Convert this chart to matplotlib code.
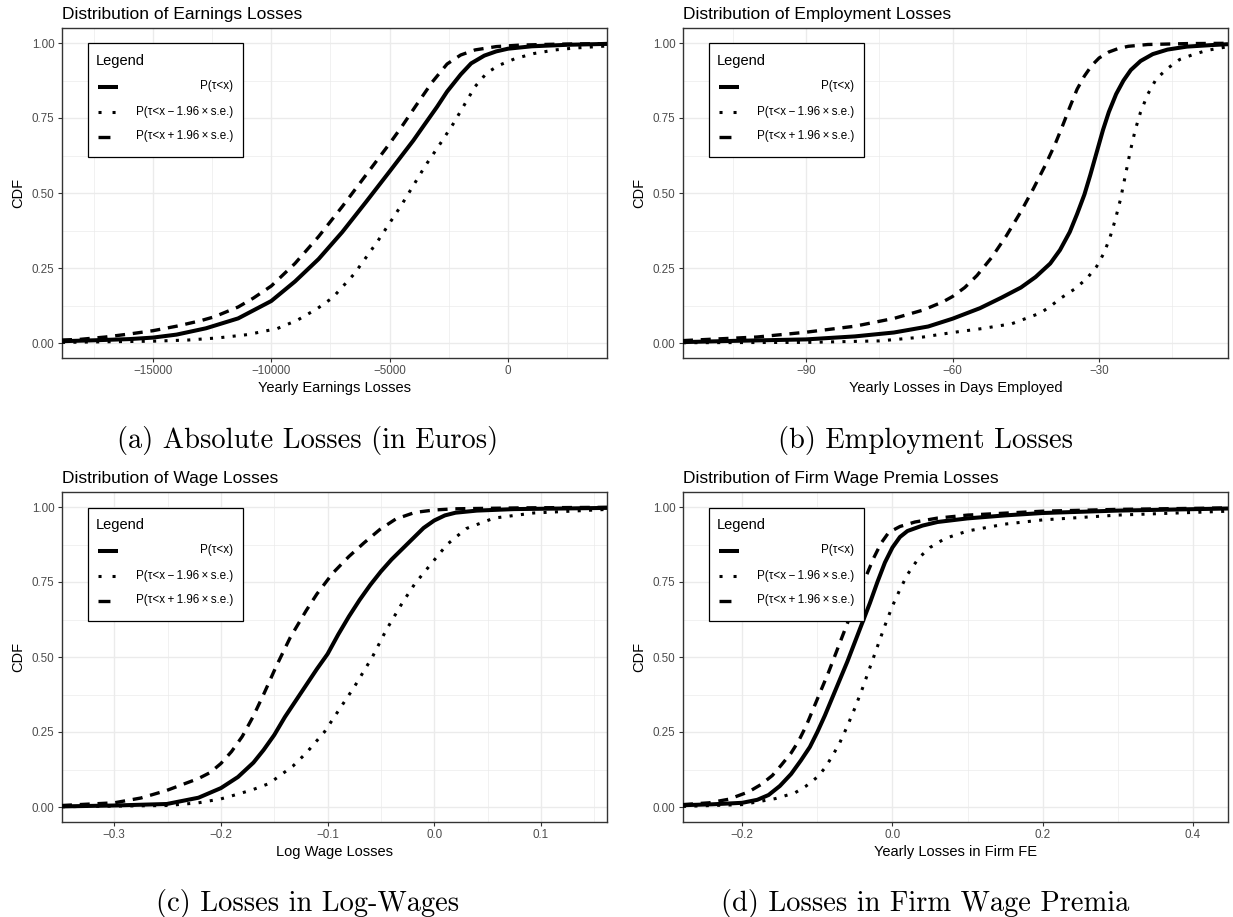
import matplotlib
matplotlib.use("Agg")
import matplotlib.pyplot as plt
from matplotlib.patches import Rectangle
from matplotlib.lines import Line2D

plt.rcParams['font.family'] = ['Liberation Sans', 'DejaVu Sans']
plt.rcParams['lines.scale_dashes'] = False

# ---------------- data ----------------
legend_title = "Legend"
legend_labels = ["P(τ<x)", "P(τ<x\u2009−\u20091.96\u2009×\u2009s.e.)", "P(τ<x\u2009+\u20091.96\u2009×\u2009s.e.)"]

# (a) yearly earnings losses
a_mid_x = [-18840, -17500, -16000, -15000, -14000, -12760, -11400, -10000, -9000, -8000, -7000, -6000,
           -5000, -4000, -3600, -3000, -2575, -2000, -1560, -1000, -500, 0, 1000, 2500, 4180]
a_mid_y = [0.006, 0.009, 0.013, 0.018, 0.028, 0.049, 0.082, 0.14, 0.205, 0.28, 0.37, 0.47,
           0.572, 0.675, 0.72, 0.787, 0.838, 0.895, 0.932, 0.958, 0.972, 0.981, 0.989, 0.994, 0.997]
a_lo_x = [-18840, -17000, -15000, -13500, -12250, -11000, -9750, -8900, -8070, -7410, -6500, -5500,
          -4500, -3500, -2900, -2320, -1800, -1390, -900, -400, 300, 1100, 2000, 2770, 4180]
a_lo_y = [0.002, 0.004, 0.006, 0.010, 0.017, 0.028, 0.048, 0.076, 0.114, 0.151, 0.23, 0.34,
          0.46, 0.59, 0.66, 0.73, 0.80, 0.855, 0.90, 0.925, 0.948, 0.965, 0.977, 0.983, 0.99]
a_hi_x = [-18840, -18100, -17000, -16000, -15000, -14000, -13000, -12420, -11400, -10750, -10000, -9000,
          -8000, -7000, -6000, -5000, -4500, -3900, -3200, -2575, -2000, -1390, -500, 500, 2000, 4180]
a_hi_y = [0.010, 0.012, 0.020, 0.030, 0.041, 0.056, 0.074, 0.087, 0.120, 0.150, 0.19, 0.265,
          0.355, 0.455, 0.56, 0.665, 0.72, 0.79, 0.87, 0.93, 0.96, 0.977, 0.988, 0.993, 0.996, 0.998]

# (b) yearly losses in days employed
b_mid_x = [-115.2, -105, -90, -80, -72, -65, -60, -54.4, -50, -46, -43, -40, -38, -36, -34.5, -33,
           -31.8, -30.5, -29.2, -28, -26.5, -25, -23.5, -21.5, -19, -16, -12, -7, -3.6]
b_mid_y = [0.003, 0.007, 0.012, 0.022, 0.035, 0.055, 0.081, 0.116, 0.151, 0.185, 0.22, 0.265, 0.31, 0.37, 0.43, 0.495,
           0.56, 0.635, 0.71, 0.77, 0.83, 0.875, 0.91, 0.94, 0.963, 0.978, 0.988, 0.993, 0.996]
b_lo_x = [-115.2, -90, -75, -66, -60, -54, -47.9, -42, -40, -37.7, -35, -32.5, -30.5, -29, -27.8, -26.7,
          -25.6, -24.6, -23.6, -22.6, -21.5, -20, -18.3, -16, -13.5, -11, -8, -3.6]
b_lo_y = [0.001, 0.002, 0.007, 0.02, 0.035, 0.048, 0.064, 0.10, 0.122, 0.151, 0.18, 0.215, 0.255, 0.30, 0.35, 0.41,
          0.48, 0.56, 0.64, 0.71, 0.77, 0.83, 0.88, 0.915, 0.945, 0.96, 0.975, 0.988]
b_hi_x = [-115.2, -100, -90, -80, -72, -66, -62, -60, -57.5, -55, -52, -49, -46, -43.5, -41, -39,
          -37.5, -36, -34.5, -33, -31.5, -30, -28, -26, -24, -20, -12, -3.6]
b_hi_y = [0.008, 0.020, 0.036, 0.056, 0.082, 0.110, 0.137, 0.155, 0.185, 0.225, 0.285, 0.357, 0.438, 0.513, 0.593, 0.663,
          0.723, 0.786, 0.846, 0.89, 0.925, 0.95, 0.97, 0.982, 0.989, 0.995, 0.998, 0.999]

# (c) log wage losses
c_mid_x = [-0.349, -0.3, -0.2508, -0.221, -0.2, -0.184, -0.1695, -0.16, -0.15, -0.14, -0.125, -0.11,
           -0.1, -0.09, -0.08, -0.07, -0.06, -0.05, -0.04, -0.03, -0.02, -0.01, 0.0, 0.01, 0.02,
           0.04, 0.075, 0.12, 0.162]
c_mid_y = [0.002, 0.005, 0.010, 0.031, 0.063, 0.10, 0.148, 0.19, 0.24, 0.30, 0.38, 0.46,
           0.51, 0.575, 0.635, 0.69, 0.74, 0.785, 0.825, 0.86, 0.895, 0.93, 0.955, 0.972, 0.981,
           0.988, 0.993, 0.995, 0.997]
c_lo_x = [-0.349, -0.25, -0.221, -0.2, -0.184, -0.17, -0.155, -0.1326, -0.12, -0.103, -0.09, -0.075,
          -0.058, -0.045, -0.03, -0.018, -0.003, 0.012, 0.03, 0.056, 0.093, 0.162]
c_lo_y = [0.001, 0.005, 0.014, 0.027, 0.043, 0.058, 0.078, 0.136, 0.18, 0.25, 0.32, 0.40,
          0.50, 0.59, 0.68, 0.745, 0.81, 0.875, 0.928, 0.963, 0.98, 0.992]
c_hi_x = [-0.349, -0.333, -0.3, -0.275, -0.251, -0.221, -0.21, -0.2, -0.19, -0.18, -0.17, -0.16,
          -0.148, -0.135, -0.12, -0.11, -0.095, -0.08, -0.066, -0.051, -0.036, -0.018, 0.0, 0.019,
          0.08, 0.162]
c_hi_y = [0.005, 0.008, 0.014, 0.030, 0.055, 0.095, 0.115, 0.145, 0.185, 0.235, 0.30, 0.375,
          0.47, 0.565, 0.655, 0.71, 0.78, 0.835, 0.88, 0.925, 0.96, 0.982, 0.99, 0.994,
          0.997, 0.999]

# (d) yearly losses in firm fixed effects
d_mid_x = [-0.279, -0.24, -0.2, -0.18, -0.165, -0.15, -0.135, -0.122, -0.11, -0.1, -0.09, -0.08, -0.07,
           -0.06, -0.05, -0.04, -0.03, -0.02, -0.01, 0.0, 0.01, 0.02, 0.04, 0.06, 0.1, 0.15, 0.2, 0.3, 0.447]
d_mid_y = [0.006, 0.009, 0.014, 0.024, 0.04, 0.07, 0.11, 0.155, 0.20, 0.25, 0.305, 0.365, 0.425,
           0.485, 0.55, 0.615, 0.68, 0.75, 0.815, 0.865, 0.90, 0.92, 0.938, 0.95, 0.962, 0.972, 0.98,
           0.988, 0.995]
d_lo_x = [-0.279, -0.2, -0.156, -0.13, -0.115, -0.1, -0.09, -0.08, -0.07, -0.06, -0.05, -0.04, -0.03,
          -0.02, -0.01, 0.0, 0.01, 0.02, 0.035, 0.05, 0.07, 0.1, 0.15, 0.2, 0.3, 0.447]
d_lo_y = [0.002, 0.008, 0.028, 0.047, 0.07, 0.10, 0.13, 0.17, 0.215, 0.27, 0.33, 0.395, 0.465,
          0.535, 0.605, 0.67, 0.725, 0.775, 0.83, 0.865, 0.895, 0.92, 0.943, 0.957, 0.973, 0.986]
d_hi_x = [-0.279, -0.244, -0.218, -0.192, -0.175, -0.16, -0.148, -0.135, -0.125, -0.115, -0.105, -0.095,
          -0.085, -0.075, -0.065, -0.055, -0.045, -0.035, -0.025, -0.015, -0.005, 0.01, 0.03, 0.06,
          0.1, 0.2, 0.3, 0.447]
d_hi_y = [0.008, 0.014, 0.026, 0.05, 0.075, 0.105, 0.14, 0.18, 0.22, 0.27, 0.33, 0.39,
          0.45, 0.515, 0.58, 0.645, 0.71, 0.77, 0.83, 0.88, 0.915, 0.935, 0.95, 0.963,
          0.973, 0.986, 0.992, 0.997]

titles = ["Distribution of Earnings Losses", "Distribution of Employment Losses",
          "Distribution of Wage Losses", "Distribution of Firm Wage Premia Losses"]
xlabels = ["Yearly Earnings Losses", "Yearly Losses in Days Employed",
           "Log Wage Losses", "Yearly Losses in Firm FE"]
captions = ["(a) Absolute Losses (in Euros)", "(b) Employment Losses",
            "(c) Losses in Log-Wages", "(d) Losses in Firm Wage Premia"]
xlims = [(-18840, 4180), (-115.2, -3.6), (-0.349, 0.162), (-0.279, 0.447)]
xticks = [[-15000, -10000, -5000, 0], [-90, -60, -30], [-0.3, -0.2, -0.1, 0.0, 0.1], [-0.2, 0.0, 0.2, 0.4]]
xticklabels = [["−15000", "−10000", "−5000", "0"], ["−90", "−60", "−30"],
               ["−0.3", "−0.2", "−0.1", "0.0", "0.1"], ["−0.2", "0.0", "0.2", "0.4"]]
xminor = [[-17500, -12500, -7500, -2500, 2500], [-105, -75, -45, -15],
          [-0.25, -0.15, -0.05, 0.05, 0.15], [-0.1, 0.1, 0.3]]
yticks = [0.0, 0.25, 0.5, 0.75, 1.0]
yticklabels = ["0.00", "0.25", "0.50", "0.75", "1.00"]
yminor = [0.125, 0.375, 0.625, 0.875]

curves = [
    [(a_mid_x, a_mid_y), (a_lo_x, a_lo_y), (a_hi_x, a_hi_y)],
    [(b_mid_x, b_mid_y), (b_lo_x, b_lo_y), (b_hi_x, b_hi_y)],
    [(c_mid_x, c_mid_y), (c_lo_x, c_lo_y), (c_hi_x, c_hi_y)],
    [(d_mid_x, d_mid_y), (d_lo_x, d_lo_y), (d_hi_x, d_hi_y)],
]

# ---------------- styles ----------------
SOLID = dict(color="black", lw=2.9, ls="-", solid_capstyle="butt", solid_joinstyle="round")
DOTTED = dict(color="black", lw=2.2, ls=(0, (2.2, 6.0)), dash_capstyle="butt")
DASHED = dict(color="black", lw=2.4, ls=(0, (7.2, 5.6)), dash_capstyle="butt")
STYLES = [SOLID, DOTTED, DASHED]
KEY_STYLES = [SOLID,
              dict(color="black", lw=2.2, ls=(0, (2.2, 7.9)), dash_capstyle="butt"),
              dict(color="black", lw=2.4, ls=(0, (8.6, 20)), dash_capstyle="butt")]

GRID = "#EBEBEB"
FRAME = "#333333"
TICKTXT = "#4D4D4D"

W, H, DPI = 1233, 917, 100
AX_W, AX_H = 545, 330
fig = plt.figure(figsize=(W / DPI, H / DPI), dpi=DPI)
fig.patch.set_facecolor("white")

corners = [(62, 28), (683, 28), (62, 492), (683, 492)]
caption_pos = [(308, 440), (925, 440), (308, 903), (925, 903)]


def draw_legend(ax):
    def fx(px):
        return px / AX_W

    def fy(py):
        return 1 - py / AX_H

    x0, y0, bw, bh = 26, 15.5, 155, 113
    ax.add_patch(Rectangle((fx(x0), fy(y0 + bh)), bw / AX_W, bh / AX_H, transform=ax.transAxes,
                           facecolor="white", edgecolor="black", lw=0.9, zorder=10, clip_on=False))
    ax.text(fx(x0 + 8), fy(y0 + 17), legend_title, transform=ax.transAxes, fontsize=10.5,
            ha="left", va="center", zorder=11)
    rows = [43, 68, 93]
    for label, style, r in zip(legend_labels, KEY_STYLES, rows):
        yy = fy(y0 + r)
        ax.add_line(Line2D([fx(x0 + 10), fx(x0 + 30)], [yy, yy], transform=ax.transAxes,
                           zorder=11, clip_on=False, **style))
        ax.text(fx(x0 + 145), yy, label, transform=ax.transAxes, fontsize=8.4,
                ha="right", va="center", zorder=11)


for i, (left, top) in enumerate(corners):
    ax = fig.add_axes([left / W, 1 - (top + AX_H) / H, AX_W / W, AX_H / H])
    ax.set_facecolor("white")
    for curve, style in zip(curves[i], STYLES):
        ax.plot(curve[0], curve[1], zorder=3, **style)
    ax.set_xlim(*xlims[i])
    ax.set_ylim(-0.05, 1.05)
    ax.set_xticks(xticks[i])
    ax.set_xticklabels(xticklabels[i])
    ax.set_xticks(xminor[i], minor=True)
    ax.set_yticks(yticks)
    ax.set_yticklabels(yticklabels)
    ax.set_yticks(yminor, minor=True)
    ax.grid(which="major", color=GRID, lw=1.0, zorder=0)
    ax.grid(which="minor", color=GRID, lw=0.5, zorder=0)
    ax.set_axisbelow(True)
    ax.tick_params(which="major", length=2.75, width=0.8, color=FRAME, labelcolor=TICKTXT,
                   labelsize=8.4)
    ax.tick_params(axis="x", which="major", pad=2.2)
    ax.tick_params(axis="y", which="major", pad=2.6)
    ax.tick_params(which="minor", length=0)
    for sp in ax.spines.values():
        sp.set_color(FRAME)
        sp.set_linewidth(1.0)
    ax.set_title(titles[i], loc="left", fontsize=12.5, pad=6.3, color="black")
    ax.set_xlabel(xlabels[i], fontsize=10.5, color="black")
    ax.xaxis.set_label_coords(0.5, -0.0697)
    ax.set_ylabel("CDF", fontsize=10.5, color="black")
    ax.yaxis.set_label_coords(-0.0673, 0.5)
    draw_legend(ax)
    cx, cy = caption_pos[i]
    fig.text(cx / W, 1 - cy / H, captions[i], ha="center", va="center",
             fontfamily="cmr10", fontsize=20.5)

fig.savefig("out.png", dpi=DPI, facecolor="white")
